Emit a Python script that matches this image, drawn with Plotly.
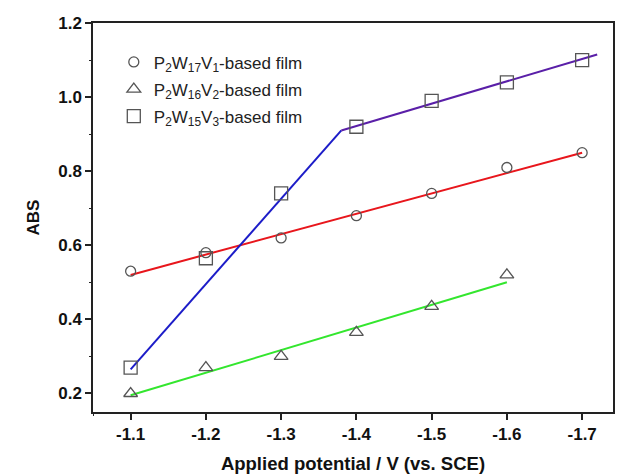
import plotly.graph_objects as go

potential = [-1.1, -1.2, -1.3, -1.4, -1.5, -1.6, -1.7]
abs_v1 = [0.53, 0.58, 0.62, 0.68, 0.74, 0.81, 0.85]
potential_v2 = [-1.1, -1.2, -1.3, -1.4, -1.5, -1.6]
abs_v2 = [0.20, 0.27, 0.30, 0.365, 0.435, 0.52]
abs_v3 = [0.27, 0.565, 0.74, 0.92, 0.99, 1.04, 1.10]

fit_v1_x = [-1.1, -1.7]
fit_v1_y = [0.52, 0.85]
fit_v2_x = [-1.1, -1.6]
fit_v2_y = [0.195, 0.50]
fit_v3a_x = [-1.1, -1.38]
fit_v3a_y = [0.265, 0.91]
fit_v3b_x = [-1.38, -1.72]
fit_v3b_y = [0.91, 1.115]

x_ticks = [-1.1, -1.2, -1.3, -1.4, -1.5, -1.6, -1.7]
y_ticks = [0.2, 0.4, 0.6, 0.8, 1.0, 1.2]

names = ["P<sub>2</sub>W<sub>17</sub>V<sub>1</sub>-based film",
         "P<sub>2</sub>W<sub>16</sub>V<sub>2</sub>-based film",
         "P<sub>2</sub>W<sub>15</sub>V<sub>3</sub>-based film"]

FAM = "Liberation Sans, Arial, sans-serif"
X_RANGE = [-1.05, -1.741]
Y_RANGE = [0.15, 1.2]

fig = go.Figure()
line_w = 2
fig.add_trace(go.Scatter(x=fit_v1_x, y=fit_v1_y, mode="lines", line=dict(color="#e8161c", width=line_w), showlegend=False))
fig.add_trace(go.Scatter(x=fit_v2_x, y=fit_v2_y, mode="lines", line=dict(color="#33e62e", width=line_w), showlegend=False))
fig.add_trace(go.Scatter(x=fit_v3a_x, y=fit_v3a_y, mode="lines", line=dict(color="#1c1cc8", width=line_w), showlegend=False))
fig.add_trace(go.Scatter(x=fit_v3b_x, y=fit_v3b_y, mode="lines", line=dict(color="#5a1fa8", width=line_w), showlegend=False))

mk_line = dict(color="#555555", width=1.3)
fig.add_trace(go.Scatter(x=potential, y=abs_v1, mode="markers", name=names[0], legendgroup="a",
                         marker=dict(symbol="circle-open", size=10, color="#555555", line=mk_line)))
fig.add_trace(go.Scatter(x=potential_v2, y=abs_v2, mode="markers", name=names[1], legendgroup="b",
                         marker=dict(symbol="triangle-up-open", size=12, color="#555555", line=mk_line)))
fig.add_trace(go.Scatter(x=potential, y=abs_v3, mode="markers", name=names[2], legendgroup="c",
                         marker=dict(symbol="square-open", size=13, color="#555555", line=mk_line)))

# invisible trace carrying overlay axes used only for the short minor ticks
fig.add_trace(go.Scatter(x=[potential[0]], y=[abs_v1[0]], xaxis="x2", yaxis="y2", mode="markers",
                         marker=dict(opacity=0), showlegend=False, hoverinfo="skip"))

fig.update_layout(
    width=620, height=476,
    margin=dict(l=93, r=5, t=23, b=63),
    paper_bgcolor="white", plot_bgcolor="white",
    font=dict(family=FAM, color="#111111", size=17),
    legend=dict(x=0.04, y=0.945, xanchor="left", yanchor="top",
                font=dict(size=17, family=FAM, color="#222222"),
                bgcolor="rgba(0,0,0,0)", tracegroupgap=2, itemsizing="trace"),
    xaxis=dict(range=X_RANGE, tickvals=x_ticks, ticktext=[f"<b>{v:.1f}</b>" for v in x_ticks],
               showgrid=False, zeroline=False, showline=True, linecolor="#222222", linewidth=1.5,
               mirror=True, ticks="outside", ticklen=6, tickwidth=1.5, tickcolor="#222222",
               tickfont=dict(size=17, family=FAM),
               title=dict(text="<b>Applied potential / V (vs. SCE)</b>", font=dict(size=18.5, family=FAM), standoff=14)),
    yaxis=dict(range=Y_RANGE, tickvals=y_ticks, ticktext=[f"<b>{v:.1f}</b>" for v in y_ticks],
               showgrid=False, zeroline=False, showline=True, linecolor="#222222", linewidth=1.5,
               mirror=True, ticks="outside", ticklen=6, tickwidth=1.5, tickcolor="#222222",
               tickfont=dict(size=17, family=FAM),
               title=dict(text="<b>ABS</b>", font=dict(size=17, family=FAM), standoff=14)),
    xaxis2=dict(overlaying="x", side="bottom", range=X_RANGE, tick0=-1.05, dtick=-0.05,
                ticks="outside", ticklen=3, tickwidth=1.2, tickcolor="#222222",
                showticklabels=False, showline=False, showgrid=False, zeroline=False),
    yaxis2=dict(overlaying="y", side="left", range=Y_RANGE, tick0=0.2, dtick=0.1,
                ticks="outside", ticklen=3, tickwidth=1.2, tickcolor="#222222",
                showticklabels=False, showline=False, showgrid=False, zeroline=False),
)
fig.write_html("out.html", config={"displayModeBar": False},
               post_script="document.body.style.margin='0';")
